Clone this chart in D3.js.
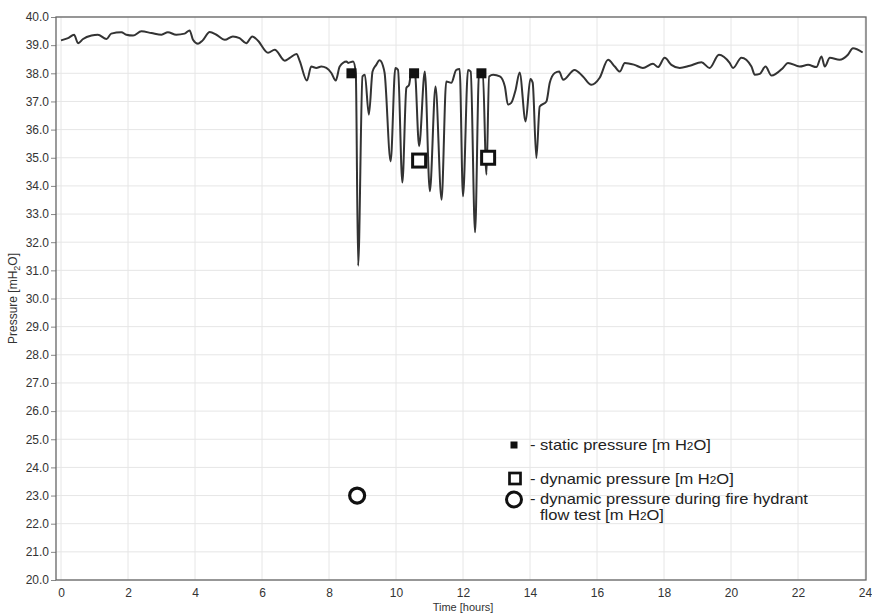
<!DOCTYPE html>
<html><head><meta charset="utf-8">
<script src="https://cdn.jsdelivr.net/npm/d3@7"></script>
<style>body{margin:0;background:#fff}svg{display:block;font-family:"Liberation Sans",Arial,sans-serif}</style>
</head><body><svg id="c" width="872" height="615"></svg>
<script>
const hours = [0.0,0.21,0.39,0.51,0.66,0.91,1.10,1.36,1.50,1.80,1.95,2.15,2.40,2.70,3.00,3.19,3.44,3.69,3.84,3.94,4.09,4.23,
4.44,4.64,4.89,5.13,5.33,5.53,5.71,5.88,6.18,6.38,6.68,6.83,7.03,7.13,7.34,7.47,7.62,7.77,7.92,8.07,8.20,8.32,8.52,
8.57,8.72,8.80,8.87,9.00,9.07,9.19,9.30,9.41,9.51,9.61,9.66,9.84,9.98,10.06,10.19,10.31,10.39,10.46,10.56,10.69,10.86,11.01,11.18,11.36,11.50,
11.65,11.80,11.90,12.00,12.15,12.23,12.36,12.48,12.59,12.70,12.78,12.90,13.10,13.25,13.34,13.44,13.57,13.69,13.87,14.01,14.08,14.19,14.29,14.49,14.59,14.74,14.87,
14.99,15.33,15.58,15.83,16.08,16.33,16.53,16.68,16.83,17.12,17.37,17.67,17.82,18.02,18.22,18.47,18.77,19.12,19.36,19.64,19.96,20.06,20.31,20.61,20.71,20.86,21.03,21.21,21.55,21.70,22.05,22.30,22.55,22.70,22.80,22.95,23.24,23.49,23.64,23.93];
const pressure = [39.17,39.25,39.37,39.07,39.22,39.34,39.37,39.22,39.41,39.46,39.37,39.34,39.49,39.43,39.37,39.46,39.37,39.41,39.52,39.19,39.05,39.17,
39.47,39.37,39.19,39.31,39.25,39.07,39.31,39.16,38.73,38.84,38.45,38.55,38.69,38.42,37.74,38.24,38.19,38.24,38.19,38.01,37.74,38.24,38.42,
38.37,38.42,38.01,31.16,37.89,37.95,36.53,38.06,38.30,38.46,38.27,38.01,34.87,38.19,38.12,34.12,37.48,37.59,38.06,38.06,35.41,38.06,33.81,37.53,33.51,37.71,
37.66,38.12,38.15,33.63,38.12,38.06,32.35,38.06,38.05,34.40,37.89,37.95,37.89,37.53,36.89,36.95,37.41,38.03,36.29,37.80,37.67,34.99,36.82,37.00,37.66,38.01,38.06,
37.77,38.12,37.89,37.59,37.84,38.48,38.24,38.06,38.37,38.30,38.19,38.34,38.22,38.55,38.30,38.19,38.27,38.39,38.19,38.66,38.37,38.19,38.55,38.24,37.95,37.98,38.24,37.92,38.19,38.37,38.24,38.30,38.22,38.60,38.24,38.55,38.48,38.66,38.89,38.74];

const staticT = [8.67, 10.54, 12.55];
const staticP = [38.0, 38.0, 38.0];
const dynamicT = [10.69, 12.75];
const dynamicP = [34.9, 35.0];
const hydrantT = [8.84];
const hydrantP = [23.0];

const xTicks = [0,2,4,6,8,10,12,14,16,18,20,22,24];
const yTicks = d3.range(20, 40.001, 1);

const svg = d3.select("#c");
const L = 61, R = 865, T = 17, B = 580;
const x = d3.scaleLinear().domain([0,24]).range([L,R]);
const y = d3.scaleLinear().domain([20,40]).range([B,T]);

// grid
svg.append("g").selectAll("line").data(yTicks).join("line")
  .attr("x1",56).attr("x2",R).attr("y1",d=>y(d)).attr("y2",d=>y(d))
  .attr("stroke","#e6e6e6").attr("stroke-width",1);
svg.append("g").selectAll("line").data(xTicks).join("line")
  .attr("x1",d=>x(d)).attr("x2",d=>x(d)).attr("y1",T).attr("y2",B)
  .attr("stroke","#e6e6e6").attr("stroke-width",1);

// axes
const yAxis = svg.append("g").attr("transform","translate(56,0)")
  .call(d3.axisLeft(y).tickValues(yTicks).tickFormat(d3.format(".1f")).tickSize(5).tickPadding(2));
const xAxis = svg.append("g").attr("transform",`translate(0,${B})`)
  .call(d3.axisBottom(x).tickValues(xTicks).tickFormat(d3.format("d")).tickSize(0).tickPadding(8));
[yAxis,xAxis].forEach(a=>{
  a.select(".domain").remove();
  a.selectAll("text").attr("font-size",12).attr("fill","#333").attr("font-family","Liberation Sans, Arial, sans-serif");
  a.selectAll("line").attr("stroke","#888");
});

// frame
svg.append("rect").attr("x",56).attr("y",T).attr("width",R+1-56).attr("height",B-T)
  .attr("fill","none").attr("stroke","#666").attr("stroke-width",1.3);

// line
const pts = hours.map((h,i)=>[h,pressure[i]]);
svg.append("path").datum(pts)
  .attr("d", d3.line().curve(d3.curveMonotoneX).x(d=>x(d[0])).y(d=>y(d[1])))
  .attr("fill","none").attr("stroke","#333").attr("stroke-width",2).attr("stroke-linejoin","round");

// markers
svg.append("g").selectAll("rect").data(staticT.map((t,i)=>[t,staticP[i]])).join("rect")
  .attr("x",d=>x(d[0])-5).attr("y",d=>y(d[1])-5).attr("width",10).attr("height",10).attr("fill","#111");
svg.append("g").selectAll("rect").data(dynamicT.map((t,i)=>[t,dynamicP[i]])).join("rect")
  .attr("x",d=>x(d[0])-6.5).attr("y",d=>y(d[1])-6.5).attr("width",13).attr("height",13)
  .attr("fill","#fff").attr("stroke","#111").attr("stroke-width",3);
svg.append("g").selectAll("circle").data(hydrantT.map((t,i)=>[t,hydrantP[i]])).join("circle")
  .attr("cx",d=>x(d[0])).attr("cy",d=>y(d[1])).attr("r",7.5)
  .attr("fill","#fff").attr("stroke","#111").attr("stroke-width",3.2);

// axis titles
svg.append("text").attr("x",(L+R)/2).attr("y",611).attr("text-anchor","middle")
  .attr("font-size",11).attr("fill","#333").text("Time [hours]");
const yl = svg.append("text").attr("transform",`translate(17,${(T+B)/2}) rotate(-90)`)
  .attr("text-anchor","middle").attr("font-size",12).attr("fill","#333");
yl.append("tspan").text("Pressure [mH");
yl.append("tspan").attr("font-size",9).attr("dy",3).text("2");
yl.append("tspan").attr("dy",-3).text("O]");

// legend
const lg = svg.append("g");
lg.append("rect").attr("x",510.5).attr("y",441.5).attr("width",7).attr("height",7).attr("fill","#111");
lg.append("rect").attr("x",509.5).attr("y",473).attr("width",11).attr("height",11)
  .attr("fill","#fff").attr("stroke","#111").attr("stroke-width",2.7);
lg.append("circle").attr("cx",514).attr("cy",499.5).attr("r",7.5)
  .attr("fill","#fff").attr("stroke","#111").attr("stroke-width",3);
function legText(yy, main){
  const t = lg.append("text").attr("transform",`translate(530,${yy}) scale(1.18,1)`)
    .attr("font-size",14).attr("fill","#222");
  t.append("tspan").text(main + " [m H");
  t.append("tspan").attr("font-size",10).text("2");
  t.append("tspan").text("O]");
}
legText(450, "- static pressure");
legText(483.5, "- dynamic pressure");
lg.append("text").attr("transform","translate(530,504) scale(1.18,1)").attr("font-size",14).attr("fill","#222")
  .text("- dynamic pressure during fire hydrant");
const t4 = lg.append("text").attr("transform","translate(540,519.5) scale(1.18,1)").attr("font-size",14).attr("fill","#222");
t4.append("tspan").text("flow test [m H");
t4.append("tspan").attr("font-size",10).text("2");
t4.append("tspan").text("O]");
</script></body></html>
